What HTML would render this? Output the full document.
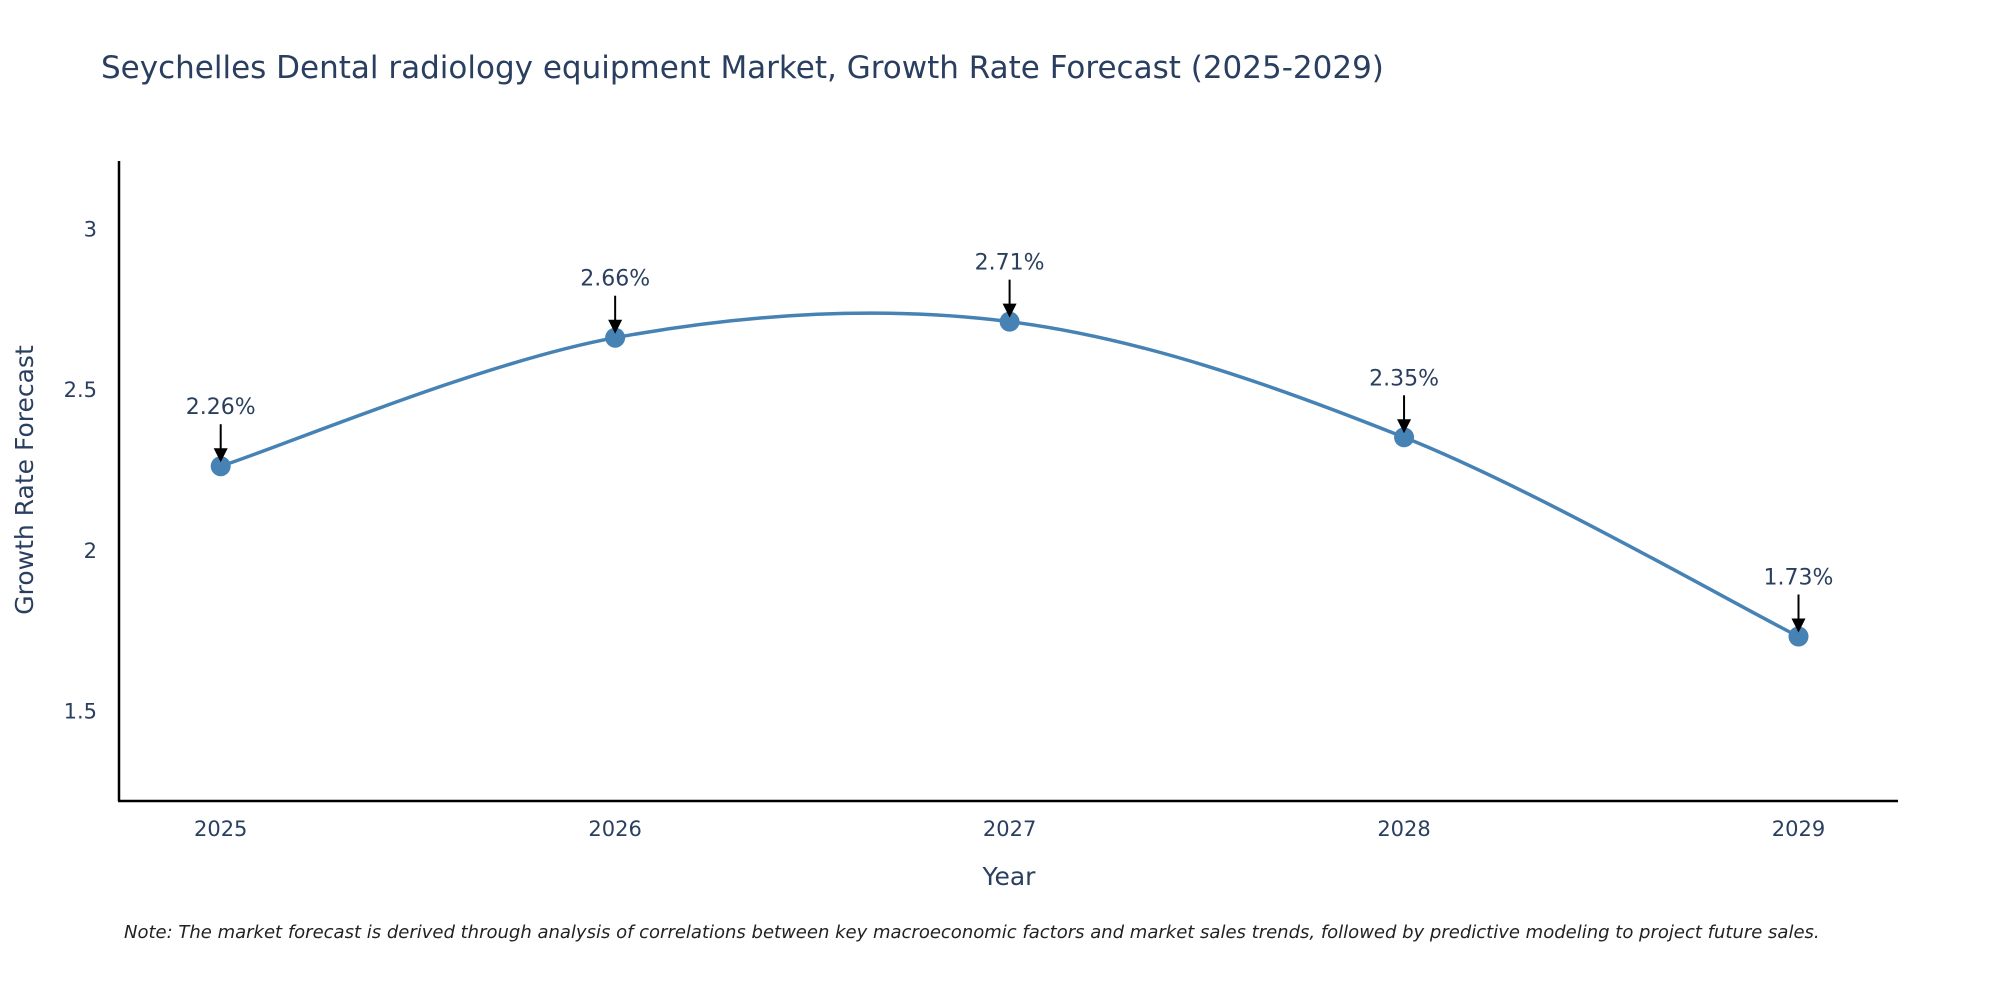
<!DOCTYPE html>
<html><head><meta charset="utf-8"><style>
html,body{margin:0;padding:0;background:#fff;}
svg{display:block;font-family:"DejaVu Sans","Liberation Sans",sans-serif;}
</style></head><body>
<svg id="chart" width="2000" height="1000" viewBox="0 0 2000 1000">
<text x="101" y="78" font-size="31" fill="#2a3f5f">Seychelles Dental radiology equipment Market, Growth Rate Forecast (2025-2029)</text>
<g id="axes"></g>
<g id="series"></g>
<g id="annots"></g>
<text x="1009" y="885" font-size="25" fill="#2a3f5f" text-anchor="middle">Year</text>
<text transform="translate(33,480) rotate(-90)" font-size="25" fill="#2a3f5f" text-anchor="middle">Growth Rate Forecast</text>
<text x="124" y="938" font-size="18" font-style="italic" fill="#222">Note: The market forecast is derived through analysis of correlations between key macroeconomic factors and market sales trends, followed by predictive modeling to project future sales.</text>
</svg>
<script>
const years = [2025, 2026, 2027, 2028, 2029];
const growth = [2.26, 2.66, 2.71, 2.35, 1.73];
const labels = ["2.26%", "2.66%", "2.71%", "2.35%", "1.73%"];
const yTicks = [1.5, 2, 2.5, 3];
const yTickLabels = ["1.5", "2", "2.5", "3"];

const NS = "http://www.w3.org/2000/svg";
const L = 119, R = 1898, T = 161, B = 801;
const yMin = 1.218, yMax = 3.21;
const xFirst = 220.7, xLast = 1798.5;
function xs(v){ return xFirst + (v - years[0]) * (xLast - xFirst) / (years[years.length-1] - years[0]); }
function ys(v){ return B - (v - yMin) * (B - T) / (yMax - yMin); }
function mk(tag, attrs, parent){ const e = document.createElementNS(NS, tag); for (const k in attrs) e.setAttribute(k, attrs[k]); parent.appendChild(e); return e; }

const axes = document.getElementById('axes');
const yAxis = mk('line', {x1:L, y1:T, x2:L, y2:B, stroke:'#000', 'stroke-width':2.5}, axes);


const xAxis = mk('line', {x1:L-1, y1:B, x2:R, y2:B, stroke:'#000', 'stroke-width':2.5}, axes);


yTicks.forEach((t, i) => {
  const e = mk('text', {x:L-22, y:ys(t)+8, 'font-size':21, fill:'#2a3f5f', 'text-anchor':'end'}, axes);
  e.textContent = yTickLabels[i];
  
  
});
years.forEach(y => {
  const e = mk('text', {x:xs(y), y:B+35, 'font-size':21, fill:'#2a3f5f', 'text-anchor':'middle'}, axes);
  e.textContent = String(y);
  
  
});

const series = document.getElementById('series');
const pts = years.map((y, i) => [xs(y), ys(growth[i])]);
let d = `M${pts[0][0]},${pts[0][1]}`;
for (let i = 0; i < pts.length - 1; i++) {
  const p0 = pts[Math.max(i-1,0)], p1 = pts[i], p2 = pts[i+1], p3 = pts[Math.min(i+2, pts.length-1)];
  const c1 = [p1[0] + (p2[0]-p0[0])/6, p1[1] + (p2[1]-p0[1])/6];
  const c2 = [p2[0] - (p3[0]-p1[0])/6, p2[1] - (p3[1]-p1[1])/6];
  d += ` C${c1[0]},${c1[1]} ${c2[0]},${c2[1]} ${p2[0]},${p2[1]}`;
}
const line = mk('path', {d:d, fill:'none', stroke:'#4682b4', 'stroke-width':3.5}, series);


pts.forEach(p => {
  const c = mk('circle', {cx:p[0], cy:p[1], r:10, fill:'#4682b4'}, series);
  
  
});

const ann = document.getElementById('annots');
pts.forEach((p, i) => {
  const g = mk('g', {}, ann);
  
  
  mk('line', {x1:p[0], y1:p[1]-42, x2:p[0], y2:p[1]-16, stroke:'#000', 'stroke-width':2}, g);
  mk('polygon', {points:`${p[0]-7},${p[1]-18} ${p[0]+7},${p[1]-18} ${p[0]},${p[1]-4}`, fill:'#000'}, g);
  const t = mk('text', {x:p[0], y:p[1]-52, 'font-size':22, fill:'#2a3f5f', 'text-anchor':'middle'}, g);
  t.textContent = labels[i];
});
</script>
</body></html>
